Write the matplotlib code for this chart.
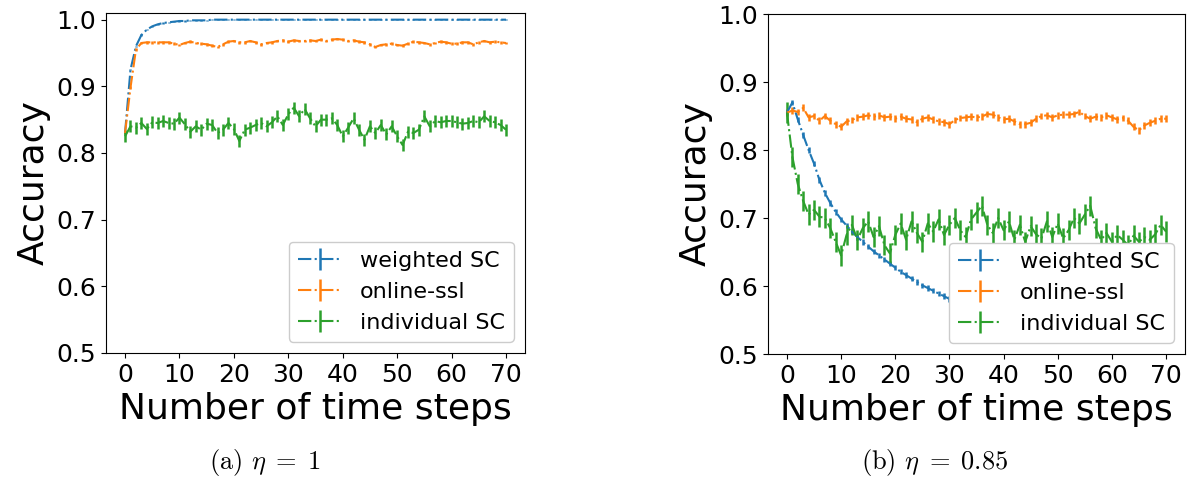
import numpy as np
import matplotlib
matplotlib.use("Agg")
import matplotlib.pyplot as plt

# one sample per time step, 0 .. 70
steps = np.arange(0, 71, 1)
series_labels = ["weighted SC", "online-ssl", "individual SC"]
x_ticks = [0, 10, 20, 30, 40, 50, 60, 70]
y_ticks = [0.5, 0.6, 0.7, 0.8, 0.9, 1.0]
captions = [r"(a) $\eta \;=\; 1$", r"(b) $\eta \;=\; 0.85$"]

# ---- eta = 1 -------------------------------------------------------------
wsc_eta1 = [
    0.830, 0.925, 0.960, 0.977, 0.985, 0.990, 0.993, 0.995, 0.996, 0.997,
    0.998, 0.998, 0.999, 0.999, 0.999, 0.999, 1.000, 1.000, 1.000, 1.000,
    1.000, 1.000, 1.000, 1.000, 1.000, 1.000, 1.000, 1.000, 1.000, 1.000,
    1.000, 1.000, 1.000, 1.000, 1.000, 1.000, 1.000, 1.000, 1.000, 1.000,
    1.000, 1.000, 1.000, 1.000, 1.000, 1.000, 1.000, 1.000, 1.000, 1.000,
    1.000, 1.000, 1.000, 1.000, 1.000, 1.000, 1.000, 1.000, 1.000, 1.000,
    1.000, 1.000, 1.000, 1.000, 1.000, 1.000, 1.000, 1.000, 1.000, 1.000,
    1.000,
]
ossl_eta1 = [
    0.830, 0.898, 0.955, 0.965, 0.966, 0.966, 0.966, 0.966, 0.966, 0.964,
    0.962, 0.965, 0.967, 0.965, 0.964, 0.963, 0.961, 0.959, 0.963, 0.967,
    0.968, 0.966, 0.966, 0.968, 0.966, 0.963, 0.965, 0.966, 0.968, 0.969,
    0.967, 0.969, 0.968, 0.968, 0.969, 0.968, 0.970, 0.968, 0.970, 0.971,
    0.970, 0.968, 0.969, 0.967, 0.966, 0.963, 0.959, 0.962, 0.963, 0.964,
    0.962, 0.961, 0.964, 0.967, 0.966, 0.965, 0.963, 0.965, 0.967, 0.966,
    0.964, 0.964, 0.966, 0.966, 0.963, 0.966, 0.968, 0.966, 0.967, 0.966,
    0.965,
]
isc_eta1 = [
    0.825, 0.840, 0.838, 0.845, 0.836, 0.846, 0.845, 0.848, 0.845, 0.844,
    0.853, 0.843, 0.832, 0.840, 0.835, 0.844, 0.842, 0.830, 0.835, 0.845,
    0.836, 0.818, 0.835, 0.838, 0.842, 0.845, 0.840, 0.846, 0.855, 0.842,
    0.858, 0.868, 0.855, 0.866, 0.852, 0.840, 0.850, 0.850, 0.852, 0.842,
    0.825, 0.838, 0.852, 0.835, 0.820, 0.840, 0.830, 0.842, 0.828, 0.840,
    0.825, 0.812, 0.832, 0.830, 0.835, 0.855, 0.840, 0.848, 0.846, 0.848,
    0.848, 0.846, 0.844, 0.845, 0.848, 0.846, 0.855, 0.848, 0.846, 0.842,
    0.835,
]
err_eta1 = [0.001, 0.002, 0.009]

# ---- eta = 0.85 ----------------------------------------------------------
wsc_eta085 = [
    0.855, 0.870, 0.845, 0.822, 0.800, 0.780, 0.756, 0.737, 0.722, 0.709,
    0.698, 0.689, 0.680, 0.672, 0.665, 0.658, 0.651, 0.645, 0.639, 0.633,
    0.627, 0.621, 0.616, 0.611, 0.606, 0.601, 0.597, 0.593, 0.589, 0.585,
    0.581, 0.578, 0.574, 0.571, 0.568, 0.565, 0.563, 0.560, 0.558, 0.556,
    0.554, 0.552, 0.550, 0.548, 0.547, 0.545, 0.544, 0.543, 0.541, 0.540,
    0.539, 0.538, 0.537, 0.536, 0.535, 0.535, 0.534, 0.533, 0.532, 0.532,
    0.531, 0.530, 0.530, 0.529, 0.529, 0.528, 0.528, 0.527, 0.527, 0.527,
    0.526,
]
ossl_eta085 = [
    0.855, 0.858, 0.856, 0.862, 0.848, 0.850, 0.843, 0.850, 0.843, 0.838,
    0.834, 0.842, 0.844, 0.848, 0.849, 0.851, 0.849, 0.851, 0.848, 0.849,
    0.846, 0.849, 0.846, 0.845, 0.841, 0.846, 0.848, 0.845, 0.842, 0.841,
    0.838, 0.844, 0.847, 0.848, 0.849, 0.848, 0.849, 0.853, 0.852, 0.848,
    0.845, 0.846, 0.842, 0.838, 0.838, 0.840, 0.846, 0.850, 0.851, 0.848,
    0.851, 0.852, 0.852, 0.853, 0.856, 0.850, 0.846, 0.849, 0.848, 0.851,
    0.848, 0.845, 0.847, 0.843, 0.834, 0.829, 0.836, 0.840, 0.843, 0.846,
    0.846,
]
isc_eta085 = [
    0.855, 0.790, 0.750, 0.725, 0.705, 0.712, 0.702, 0.700, 0.685, 0.665,
    0.645, 0.675, 0.690, 0.668, 0.685, 0.695, 0.672, 0.688, 0.660, 0.648,
    0.675, 0.692, 0.668, 0.695, 0.678, 0.665, 0.692, 0.680, 0.698, 0.675,
    0.690, 0.700, 0.682, 0.672, 0.698, 0.708, 0.718, 0.690, 0.678, 0.700,
    0.682, 0.695, 0.668, 0.690, 0.665, 0.688, 0.676, 0.670, 0.695, 0.672,
    0.692, 0.670, 0.682, 0.700, 0.692, 0.705, 0.718, 0.685, 0.668, 0.678,
    0.665, 0.675, 0.668, 0.660, 0.674, 0.665, 0.672, 0.668, 0.676, 0.690,
    0.680,
]
err_eta085 = [0.004, 0.005, 0.015]

panels = [
    ([wsc_eta1, ossl_eta1, isc_eta1], err_eta1, (0.5, 1.01)),
    ([wsc_eta085, ossl_eta085, isc_eta085], err_eta085, (0.5, 1.0)),
]

fig = plt.figure(figsize=(11.95, 4.99), dpi=100)
axes = [
    fig.add_axes([106 / 1195, 1 - 353 / 499, 419 / 1195, 340 / 499]),
    fig.add_axes([768 / 1195, 1 - 354 / 499, 417 / 1195, 340 / 499]),
]

for ax, (curves, errs, ylim) in zip(axes, panels):
    for vals, err, label in zip(curves, errs, series_labels):
        ax.errorbar(steps, vals, yerr=err, fmt="-.", lw=1.5, elinewidth=1.8,
                    label=label)
    ax.set_xlim(-3.5, 73.5)
    ax.set_ylim(*ylim)
    ax.set_xticks(x_ticks)
    ax.set_yticks(y_ticks)
    ax.tick_params(labelsize=18)
    ax.set_xlabel("Number of time steps", fontsize=26)
    ax.set_ylabel("Accuracy", fontsize=26)
    ax.legend(loc="lower right", fontsize=16, framealpha=1.0)

for xc, text in zip([265 / 1195, 935 / 1195], captions):
    fig.text(xc, 1 - 462 / 499, text, ha="center", va="center",
             fontsize=19, family="cmr10", math_fontfamily="cm")

fig.savefig("out.png", dpi=100)
